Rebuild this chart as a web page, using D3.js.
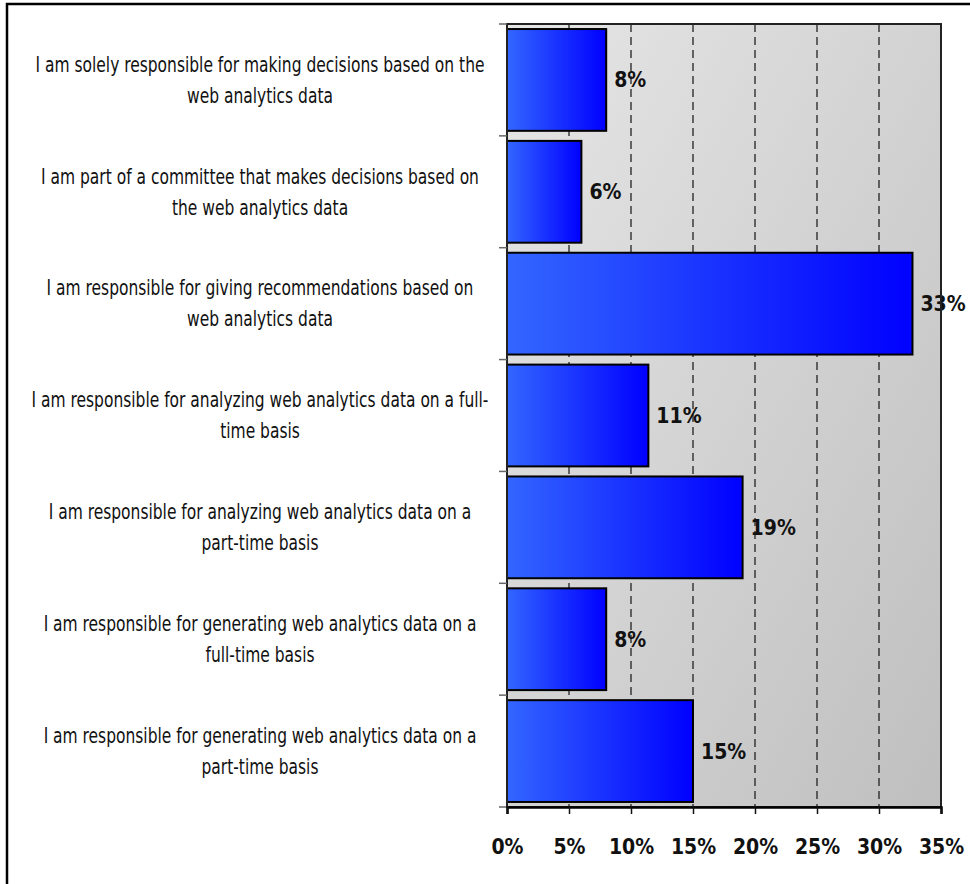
<!DOCTYPE html>
<html>
<head>
<meta charset="utf-8">
<script src="https://cdn.jsdelivr.net/npm/d3@7"></script>
<style>
  body { margin: 0; background: #fff; }
  text { font-family: "Liberation Sans Narrow", "DejaVu Sans Condensed", "Arial Narrow", sans-serif; }
</style>
</head>
<body>
<div id="chart"></div>
<script>
const categories = [
    ['I am solely responsible for making decisions based on the', 'web analytics data'],
    ['I am part of a committee that makes decisions based on', 'the web analytics data'],
    ['I am responsible for giving recommendations based on', 'web analytics data'],
    ['I am responsible for analyzing web analytics data on a full-', 'time basis'],
    ['I am responsible for analyzing web analytics data  on a', 'part-time basis'],
    ['I am responsible for generating web analytics data on a', 'full-time basis'],
    ['I am responsible for generating web analytics data on a', 'part-time basis']
]
const values = [8.0, 6.0, 32.7, 11.4, 19.0, 8.0, 15.0]
const valueLabels = ['8%', '6%', '33%', '11%', '19%', '8%', '15%']
const xTicks = [0, 5, 10, 15, 20, 25, 30, 35]

const width = 970
const height = 884
const plot = { left: 507, right: 941, top: 24, bottom: 807 }
const labelCenter = 260

const svg = d3.select('#chart')
    .append('svg')
    .attr('width', width)
    .attr('height', height)

const defs = svg.append('defs')

const bg = defs.append('linearGradient')
    .attr('id', 'bg')
    .attr('x1', '0%').attr('y1', '0%')
    .attr('x2', '100%').attr('y2', '100%')
bg.append('stop').attr('offset', '0%').attr('stop-color', '#e6e6e6')
bg.append('stop').attr('offset', '100%').attr('stop-color', '#bfbfbf')

const barGrad = defs.append('linearGradient')
    .attr('id', 'bar')
    .attr('x1', '0%').attr('y1', '0%')
    .attr('x2', '100%').attr('y2', '0%')
barGrad.append('stop').attr('offset', '0%').attr('stop-color', '#3366ff')
barGrad.append('stop').attr('offset', '100%').attr('stop-color', '#0000ff')

// outer frame
svg.append('rect')
    .attr('x', 7).attr('y', 4)
    .attr('width', 1000).attr('height', 1000)
    .attr('fill', 'none')
    .attr('stroke', '#000')
    .attr('stroke-width', 2.5)

const x = d3.scaleLinear()
    .domain([0, 35])
    .range([plot.left, plot.right])

const y = d3.scaleBand()
    .domain(d3.range(categories.length))
    .range([plot.top, plot.bottom])
    .paddingInner(0.09)
    .paddingOuter(0.045)

const yEdges = d3.scaleLinear()
    .domain([0, categories.length])
    .range([plot.top, plot.bottom])

// plot background
svg.append('rect')
    .attr('x', plot.left).attr('y', plot.top)
    .attr('width', plot.right - plot.left)
    .attr('height', plot.bottom - plot.top)
    .attr('fill', 'url(#bg)')

// gridlines
svg.append('g')
    .selectAll('line')
    .data(xTicks.slice(1, -1))
    .enter()
    .append('line')
    .attr('x1', d => x(d)).attr('x2', d => x(d))
    .attr('y1', plot.top).attr('y2', plot.bottom)
    .attr('stroke', '#222')
    .attr('stroke-width', 1.3)
    .attr('stroke-dasharray', '8,5')

// bars
svg.append('g')
    .selectAll('rect')
    .data(values)
    .enter()
    .append('rect')
    .attr('x', x(0))
    .attr('y', (_, i) => y(i))
    .attr('width', d => x(d) - x(0))
    .attr('height', y.bandwidth())
    .attr('fill', 'url(#bar)')
    .attr('stroke', '#000')
    .attr('stroke-width', 2)

// value labels
svg.append('g')
    .selectAll('text')
    .data(values)
    .enter()
    .append('text')
    .attr('x', d => x(d) + 8)
    .attr('y', (_, i) => y(i) + y.bandwidth() / 2)
    .attr('dy', '0.36em')
    .attr('font-size', 21)
    .attr('font-weight', 'bold')
    .attr('fill', '#111')
    .text((_, i) => valueLabels[i])

// plot frame
svg.append('rect')
    .attr('x', plot.left).attr('y', plot.top)
    .attr('width', plot.right - plot.left)
    .attr('height', plot.bottom - plot.top)
    .attr('fill', 'none')
    .attr('stroke', '#222')
    .attr('stroke-width', 2)

// y ticks at category edges
svg.append('g')
    .selectAll('line')
    .data(d3.range(categories.length + 1))
    .enter()
    .append('line')
    .attr('x1', plot.left - 8).attr('x2', plot.left)
    .attr('y1', d => yEdges(d)).attr('y2', d => yEdges(d))
    .attr('stroke', '#666')
    .attr('stroke-width', 1.5)

// x axis
const xAxis = svg.append('g')
    .attr('transform', `translate(0, ${plot.bottom})`)
    .call(d3.axisBottom(x).tickValues(xTicks).tickSize(7).tickPadding(25).tickFormat(d => d + '%'))
xAxis.select('.domain').attr('stroke', '#000').attr('stroke-width', 2.5)
xAxis.selectAll('.tick line').attr('stroke', '#111').attr('stroke-width', 1.5)
xAxis.selectAll('.tick text')
    .attr('font-size', 21)
    .attr('font-weight', 'bold')
    .attr('fill', '#111')
    .style('font-family', '"Liberation Sans Narrow", "DejaVu Sans Condensed", sans-serif')

// category labels, squeezed horizontally to mimic a condensed face
const labels = svg.append('g')
    .selectAll('text')
    .data(categories)
    .enter()
    .append('text')
    .attr('transform', `translate(${labelCenter}, 0) scale(0.82, 1)`)
    .attr('text-anchor', 'middle')
    .attr('font-size', 21)
    .attr('fill', '#111')

labels.selectAll('tspan')
    .data((d, i) => d.map(line => ({ line, i, n: d.length })))
    .enter()
    .append('tspan')
    .attr('x', 0)
    .attr('y', (d, k) => y(d.i) + y.bandwidth() / 2 + (k - (d.n - 1) / 2) * 31)
    .attr('dy', '0.35em')
    .text(d => d.line)
</script>
</body>
</html>
